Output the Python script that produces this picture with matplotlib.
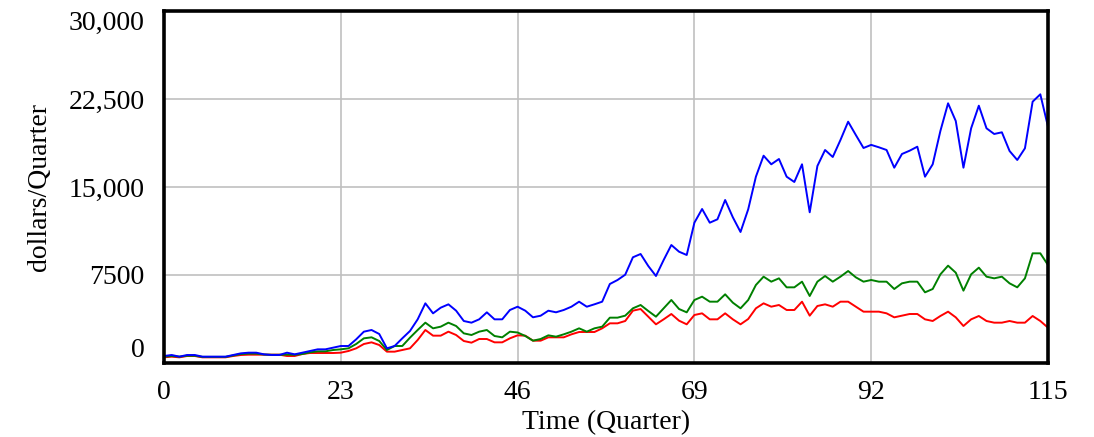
import matplotlib.pyplot as plt
import numpy as np

# quarterly series, quarter 0..115
quarters = np.arange(0, 116)

blue_vals = [
    597, 682, 540, 682, 682, 540, 540, 540, 540, 682, 824, 880, 880, 739, 682, 682,
    880, 739, 880, 1023, 1165, 1165, 1307, 1449,
    1449, 2017, 2670, 2813, 2472, 1250, 1449, 2102, 2727, 3722, 5085, 4233, 4716,
    5000, 4460, 3580, 3437, 3722, 4318, 3722, 3722, 4517, 4798,
    4458, 3895, 4031, 4458, 4321, 4517, 4798, 5225, 4798, 5003, 5225, 6733, 7074,
    7526, 9009, 9290, 8267, 7415, 8779, 10057, 9486, 9205,
    11958, 13125, 11958, 12248, 13892, 12418, 11165, 13100, 15878, 17668, 16935,
    17387, 15878, 15427, 16935, 12844, 16790, 18154, 17557, 19006, 20566, 19432, 18324,
    18590, 18384, 18154, 16645, 17813, 18094, 18436, 15878, 16935, 19773, 22134,
    20626, 16645, 20003, 21930, 20003, 19518, 19662, 18069, 17302, 18299, 22271,
    22901, 20140,
]

green_vals = [
    540, 600, 540, 620, 620, 520, 520, 520, 520, 640, 760, 800, 800, 720, 700, 700,
    720, 700, 767, 909, 994, 994, 1108, 1165,
    1250, 1619, 2102, 2188, 1875, 1108, 1449, 1449, 2159, 2813, 3437, 2955, 3097,
    3437, 3154, 2528, 2386, 2670, 2813, 2301, 2188, 2670, 2600,
    2301, 1903, 2045, 2358, 2244, 2443, 2670, 2955, 2670, 2955, 3097, 3864, 3864,
    4034, 4660, 4943, 4432, 3949, 4660, 5369, 4602, 4318,
    5369, 5653, 5227, 5227, 5853, 5142, 4659, 5369, 6648, 7358, 6932, 7216, 6449,
    6449, 6932, 5710, 6932, 7415, 6932, 7358, 7841, 7301, 6932,
    7074, 6932, 6932, 6307, 6790, 6932, 6932, 6023, 6307, 7557, 8296, 7699, 6165,
    7557, 8125, 7358, 7216, 7358, 6790, 6449, 7216, 9347, 9347, 8352,
]

red_vals = [
    483, 540, 483, 597, 597, 483, 483, 483, 483, 597, 682, 710, 710, 710, 710, 710,
    597, 597, 767, 852, 852, 852, 852, 880,
    1023, 1250, 1619, 1761, 1534, 966, 966, 1108, 1250, 1960, 2813, 2330, 2330,
    2670, 2386, 1875, 1733, 2045, 2045, 1761, 1761, 2102, 2358,
    2330, 1903, 1903, 2188, 2188, 2188, 2443, 2642, 2642, 2642, 2955, 3381, 3381,
    3580, 4460, 4602, 3949, 3296, 3722, 4176, 3608, 3296,
    4091, 4233, 3722, 3722, 4233, 3722, 3296, 3750, 4659, 5085, 4800, 4943, 4517,
    4517, 5227, 4034, 4858, 5000, 4800, 5227, 5227, 4800, 4375,
    4375, 4375, 4233, 3892, 4034, 4176, 4176, 3722, 3580, 4006, 4375, 3892, 3154,
    3722, 4006, 3580, 3437, 3437, 3580, 3437, 3437, 4006, 3580, 3011,
]

x_ticks = [0, 23, 46, 69, 92, 115]
y_ticks = [0, 7500, 15000, 22500, 30000]
y_tick_labels = ["0", "7500", "15,000", "22,500", "30,000"]

plt.rcParams['font.family'] = ['Liberation Serif', 'DejaVu Serif']

fig = plt.figure(figsize=(10.94, 4.37), dpi=100)
ax = fig.add_axes([164 / 1094, 1 - 363 / 437, (1048 - 164) / 1094, (363 - 11) / 437])

ax.plot(quarters, red_vals, color='#ff0000', lw=1.4)
ax.plot(quarters, green_vals, color='#008000', lw=1.4)
ax.plot(quarters, blue_vals, color='#0000ff', lw=1.4)

ax.set_xlim(0, 115)
ax.set_ylim(0, 30000)
ax.set_xticks(x_ticks)
ax.set_xticklabels([str(t) for t in x_ticks])
ax.set_yticks(y_ticks)
ax.set_yticklabels(y_tick_labels)

# end labels sit inside the axis range
ylabels = ax.get_yticklabels()
ylabels[0].set_va('bottom')
ylabels[-1].set_va('top')

ax.tick_params(axis='both', length=0, labelsize=20)
ax.tick_params(axis='x', pad=12)
ax.tick_params(axis='y', pad=14)

ax.grid(True, color='#c0c0c0', lw=1.2)
ax.set_axisbelow(True)
for s in ax.spines.values():
    s.set_linewidth(2.6)
    s.set_color('black')

ax.set_xlabel("Time (Quarter)", fontsize=20, labelpad=4)
ax.set_ylabel("dollars/Quarter", fontsize=20, labelpad=12)

fig.savefig("out.png", dpi=100)
